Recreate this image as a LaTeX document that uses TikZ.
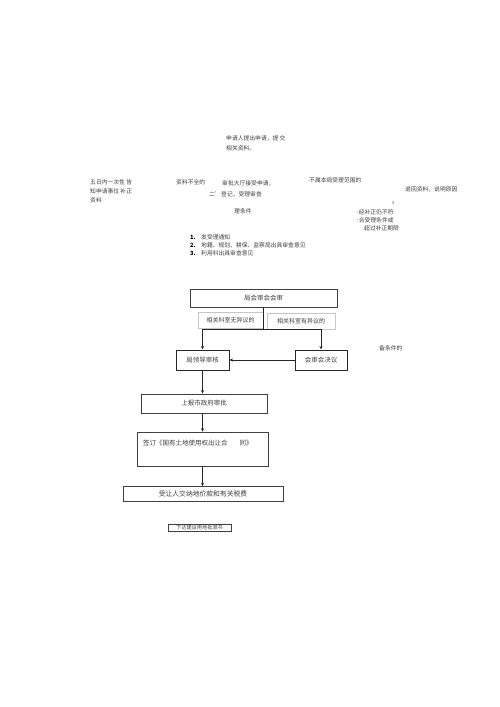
\documentclass[tikz,border=0pt]{standalone}
\usepackage{fontspec}
\setmainfont{Noto Sans CJK SC}
\usetikzlibrary{arrows.meta}
\begin{document}
\begin{tikzpicture}[x=1pt,y=-1pt,
  txt/.style={anchor=west,inner sep=0pt,font=\fontsize{5.8}{6.5}\selectfont,text=black!75},
  boxa/.style={draw=black!75,line width=0.6pt,inner sep=0pt},
  boxb/.style={draw=black!85,line width=1pt,inner sep=0pt},
  boxg/.style={draw=black!22,line width=0.6pt,inner sep=0pt},
  btxt/.style={font=\fontsize{6.5}{7}\selectfont,text=black!75,inner sep=0pt},
  arr/.style={line width=0.7pt,draw=black!85,-{Stealth[length=3.5pt,width=3pt]}},
  ln/.style={line width=0.7pt,draw=black!85}]
\useasboundingbox[fill=white] (0,0) rectangle (500,707);
% free texts
\node[txt] (t1) at (226,138) {申请人提出申请，提 交};
\node[txt] (t2) at (226,148) {相关资料。};
\node[txt] (t3) at (90,182) {五日内一次性 告};
\node[txt] (t4) at (90,191) {知申请事位 补正};
\node[txt] (t5) at (90,200) {资料};
\node[txt] (t6) at (176,182) {资料不全的};
\node[txt] (t7) at (222,183) {审批大厅接受申请，};
\node[txt] (t8) at (209,194) {二'};
\node[txt] (t9) at (221,194) {登记，受理审查};
\node[txt] (t10) at (234,211) {理条件};
\node[txt] (t11) at (309,180) {不属本局受理范围的};
\node[txt] (t12) at (405,189) {退回资料，说明原因};
\node[txt,font=\fontsize{4}{5}\selectfont] (t13) at (392,203) {¢};
\node[txt] (t14) at (357,212) {:经补正仍不符};
\node[txt] (t15) at (357,220) {:合受理条件或};
\node[txt] (t16) at (364,228) {超过补正期限};
\node[txt,text=black] (l1n) at (190,237) {\textbf{1.}};
\node[txt] (l1) at (201,237) {发受理通知};
\node[txt,text=black] (l2n) at (190,245) {\textbf{2.}};
\node[txt] (l2) at (201,245) {地籍、规划、耕保、监察局出具审查意见};
\node[txt,text=black] (l3n) at (190,253) {\textbf{3.}};
\node[txt] (l3) at (201,253) {利用科出具审查意见};
\node[txt] (t17) at (379,348) {备条件的};
% boxes
\node[boxa,minimum width=147pt,minimum height=18pt] (hs) at (263.5,298) {};
\node[btxt] at (hs) {局会审会会审};
\node[boxg,minimum width=65pt,minimum height=16pt] (g1) at (230.5,320) {};
\node[btxt,font=\fontsize{6}{6.5}\selectfont] at (g1) {相关科室无异议的};
\node[boxg,minimum width=68pt,minimum height=16pt] (g2) at (301,321) {};
\node[btxt,font=\fontsize{6}{6.5}\selectfont] at (g2) {相关科室有异议的};
\node[boxb,minimum width=53pt,minimum height=20pt] (ld) at (202.5,360) {};
\node[btxt] at (ld) {局领导审核};
\node[boxb,minimum width=52pt,minimum height=20pt] (jy) at (321,360) {};
\node[btxt] at (jy) {会审会决议};
\node[boxa,line width=0.8pt,minimum width=126pt,minimum height=19pt] (sb) at (204,403.5) {};
\node[btxt] at (sb) {上报市政府审批};
\node[boxa,minimum width=131pt,minimum height=34pt] (qd) at (202.5,449) {};
\node[btxt,anchor=west] at (143,443) {签订《国有土地使用权出让合\hspace{12pt}同》};
\node[boxa,minimum width=160pt,minimum height=15pt] (sr) at (203,494) {};
\node[btxt,font=\fontsize{6.8}{7}\selectfont] at (sr) {受让人交纳地价款和有关税费};
\node[boxa,line width=0.5pt,minimum width=63pt,minimum height=7pt] (pz) at (199.5,527.5) {};
\node[btxt,font=\fontsize{5.2}{5}\selectfont] at (pz) {下达建设用地批准书};
% connectors
\coordinate (j) at (hs.south |- 0,329);
\draw[ln] (hs.south) -- (j);
\draw[arr] (j) -| (ld.north);
\draw[arr] (j) -| (jy.north);
\draw[arr] (jy.west) -- (ld.east);
\draw[arr] (ld.south) -- (ld.south |- sb.north);
\draw[arr] (ld.south |- sb.south) -- (ld.south |- qd.north);
\draw[arr] (ld.south |- qd.south) -- (ld.south |- sr.north);
\end{tikzpicture}
\end{document}
